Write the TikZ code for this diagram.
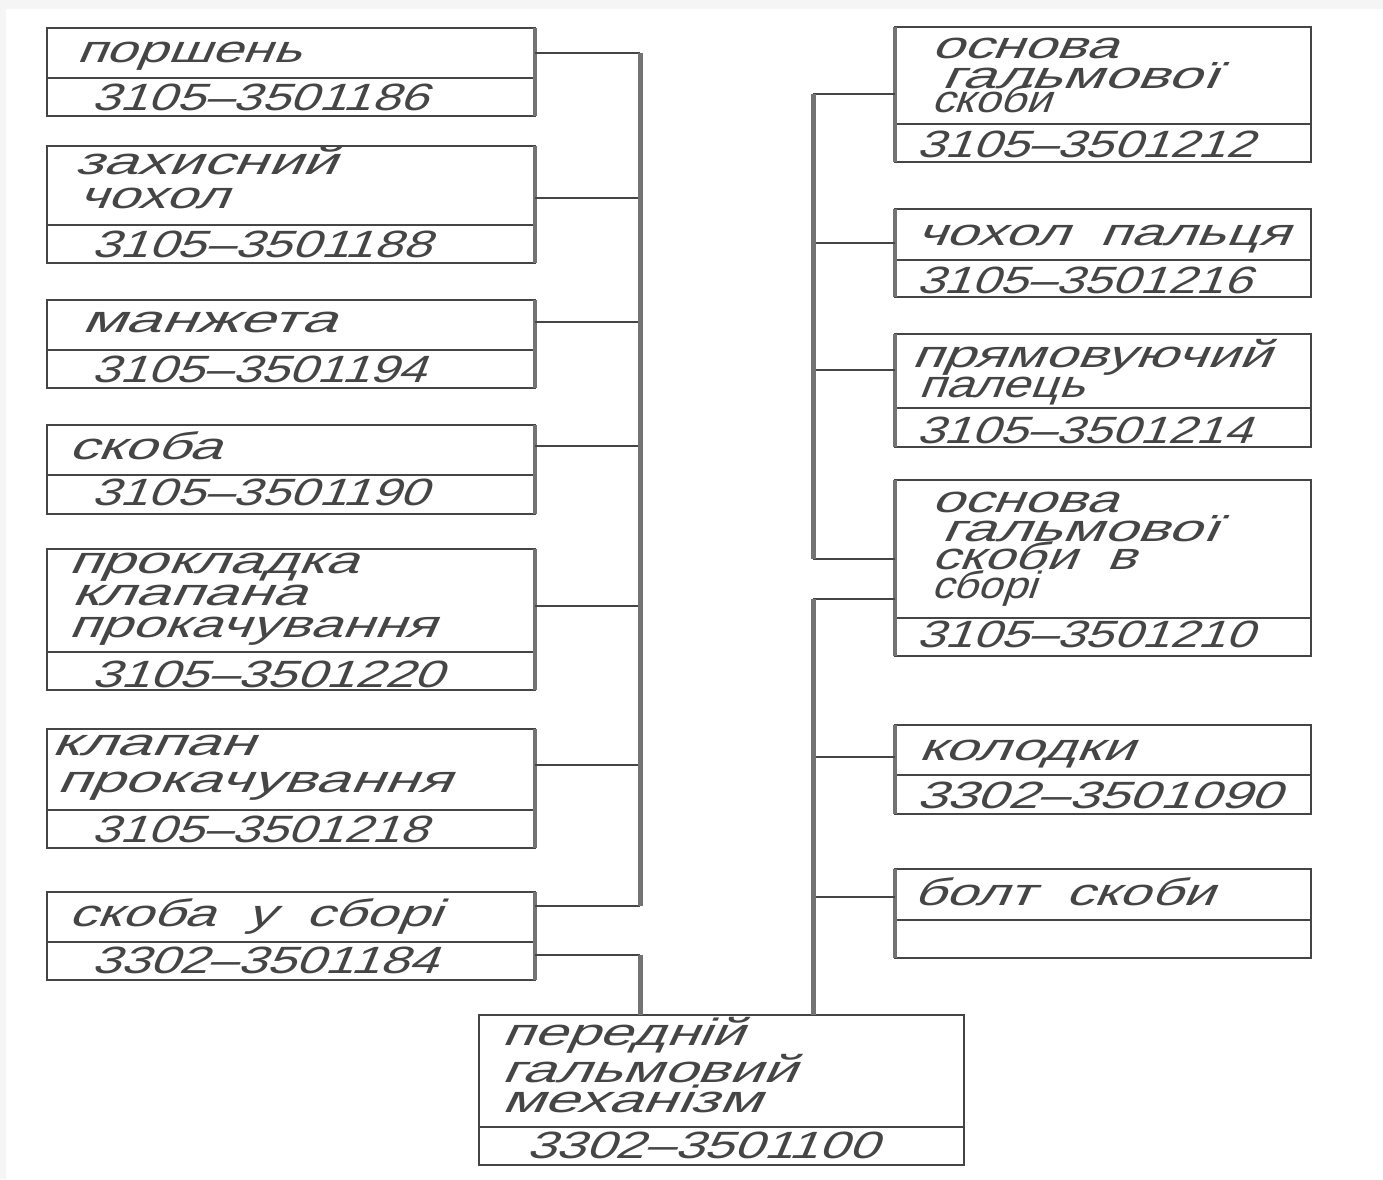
\documentclass[tikz,border=0pt]{standalone}
\usepackage{fontspec}
\usepackage{graphicx}
\newfontfamily\lblfont[FakeSlant=0.3]{Liberation Sans}
\definecolor{ink}{gray}{0.27}
\definecolor{edge}{gray}{0.96}
\newcounter{lblno}
\tikzset{
  cell/.style={draw=ink,line width=2.2bp,fill=none,rectangle,inner sep=0pt,outer sep=0pt},
  wire/.style={draw=ink,line width=2bp},
  busline/.style={draw=black!55,line width=5bp},
  sideline/.style={draw=black!55,line width=4.5bp},
  lbl/.style={anchor=base west,inner sep=0pt,outer sep=0pt,text=ink,font=\lblfont\fontsize{38bp}{38bp}\selectfont}
}
% name, x1, x2, top, divider, bottom
\newcommand{\partbox}[6]{%
  \node[cell,minimum width={(#3-#2)*1bp},minimum height={(#5-#4)*1bp}] (#1t) at ({(#2+#3)/2},{(#4+#5)/2}) {};
  \node[cell,minimum width={(#3-#2)*1bp},minimum height={(#6-#5)*1bp}] (#1b) at ({(#2+#3)/2},{(#5+#6)/2}) {};
}
% x left, x right, baseline, text
\newcommand{\lbltext}[4]{%
  \stepcounter{lblno}%
  \node[lbl] (txt\arabic{lblno}) at ({#1-4},#3) {\resizebox{\dimexpr #2bp-#1bp\relax}{\height}{#4}};
}
\begin{document}
\begin{tikzpicture}[x=1bp,y=-1bp]
\useasboundingbox (0,0) rectangle (1383,1179);
\fill[edge] (0,0) rectangle (1383,1179);
\fill[white] (6,9) rectangle (1383,1179);

% left column
\partbox{La}{47}{535}{28}{78}{116}
\partbox{Lb}{47}{535}{146}{225}{263}
\partbox{Lc}{47}{535}{300}{350}{388}
\partbox{Ld}{47}{535}{425}{475}{514}
\partbox{Le}{47}{535}{549}{652}{690}
\partbox{Lf}{47}{535}{729}{810}{848}
\partbox{Lg}{47}{535}{892}{942}{980}
% right column
\partbox{Ra}{895}{1311}{27}{124}{162}
\partbox{Rb}{895}{1311}{209}{260}{297}
\partbox{Rc}{895}{1311}{334}{408}{447}
\partbox{Rd}{895}{1311}{480}{618}{656}
\partbox{Re}{895}{1311}{725}{775}{814}
\partbox{Rf}{895}{1311}{869}{920}{958}
% bottom
\partbox{M}{479}{964}{1015}{1127}{1165}

% heavier vertical sides, as the reference's scaling leaves them
\foreach \n in {La,Lb,Lc,Ld,Le,Lf,Lg}
  \draw[sideline] (\n t.north east) -- (\n b.south east);
\foreach \n in {Ra,Rb,Rc,Rd,Re,Rf}
  \draw[sideline] (\n t.north west) -- (\n b.south west);

% left junctions
\coordinate (ja) at (640,53);
\coordinate (jb) at (640,198);
\coordinate (jc) at (640,322);
\coordinate (jd) at (640,446);
\coordinate (je) at (640,606);
\coordinate (jf) at (640,765);
\coordinate (jg) at (640,906);
\coordinate (jh) at (640,955);
\foreach \j/\n in {ja/La,jb/Lb,jc/Lc,jd/Ld,je/Le,jf/Lf,jg/Lg}
  \draw[wire] (\j) -- (\j -| \n t.east);
\draw[busline] (ja) -- (jg);
\draw[wire] (jh -| Lgb.east) -- (jh);
\draw[busline] (jh) -- (jh |- Mt.north);

% right junctions
\coordinate (ka) at (813,94);
\coordinate (kb) at (813,243);
\coordinate (kc) at (813,370);
\coordinate (kd) at (813,559);
\coordinate (ke) at (813,599);
\coordinate (kf) at (813,757);
\coordinate (kg) at (813,897);
\foreach \j/\n in {ka/Ra,kb/Rb,kc/Rc,kd/Rd,ke/Rd,kf/Re,kg/Rf}
  \draw[wire] (\j) -- (\j -| \n t.west);
\draw[busline] (ka) -- (kd);
\draw[busline] (ke) -- (ke |- Mt.north);

% left labels
\lbltext{80}{305}{62}{поршень}
\lbltext{95}{432}{110}{3105–3501186}
\lbltext{78}{340}{174}{захисний}
\lbltext{82}{232}{208}{чохол}
\lbltext{95}{435}{257}{3105–3501188}
\lbltext{85}{340}{332}{манжета}
\lbltext{95}{430}{382}{3105–3501194}
\lbltext{72}{225}{459}{скоба}
\lbltext{95}{432}{505}{3105–3501190}
\lbltext{72}{362}{573}{прокладка}
\lbltext{75}{310}{605}{клапана}
\lbltext{72}{440}{637}{прокачування}
\lbltext{95}{447}{687}{3105–3501220}
\lbltext{55}{258}{755}{клапан}
\lbltext{60}{455}{792}{прокачування}
\lbltext{95}{432}{842}{3105–3501218}
\lbltext{72}{445}{926}{скоба\ \ у\ \ сборі}
\lbltext{95}{442}{973}{3302–3501184}
% right labels
\lbltext{935}{1122}{58}{основа}
\lbltext{945}{1222}{88}{гальмової}
\lbltext{935}{1055}{112}{скоби}
\lbltext{920}{1258}{157}{3105–3501212}
\lbltext{920}{1293}{245}{чохол\ \ пальця}
\lbltext{920}{1255}{293}{3105–3501216}
\lbltext{915}{1275}{367}{прямовуючий}
\lbltext{922}{1088}{397}{палець}
\lbltext{920}{1255}{443}{3105–3501214}
\lbltext{935}{1122}{512}{основа}
\lbltext{945}{1222}{541}{гальмової}
\lbltext{935}{1140}{569}{скоби\ \ в}
\lbltext{935}{1040}{598}{сборі}
\lbltext{920}{1258}{647}{3105–3501210}
\lbltext{922}{1138}{760}{колодки}
\lbltext{920}{1285}{808}{3302–3501090}
\lbltext{917}{1218}{905}{болт\ \ скоби}
% bottom labels
\lbltext{505}{748}{1045}{передній}
\lbltext{505}{800}{1082}{гальмовий}
\lbltext{505}{765}{1112}{механізм}
\lbltext{530}{882}{1158}{3302–3501100}
\end{tikzpicture}
\end{document}
